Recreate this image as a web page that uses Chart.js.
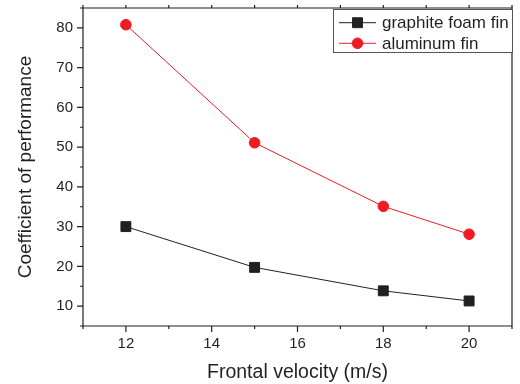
<!DOCTYPE html>
<html>
<head>
<meta charset="utf-8">
<script src="https://cdn.jsdelivr.net/npm/chart.js@4/dist/chart.umd.min.js"></script>
<style>
html,body{margin:0;padding:0;background:#fff;}
#wrap{width:520px;height:384px;position:relative;}
</style>
</head>
<body>
<div id="wrap"><canvas id="c" width="520" height="384"></canvas></div>
<script>
const velocities = [12, 15, 18, 20];
const graphiteFoamFin = [30.0, 19.75, 13.85, 11.3];
const aluminumFin = [80.8, 51.1, 35.1, 28.1];
const xTickLabels = [12, 14, 16, 18, 20];
const yTickLabels = [10, 20, 30, 40, 50, 60, 70, 80];
const seriesNames = ['graphite foam fin', 'aluminum fin'];
const xTitle = 'Frontal velocity (m/s)';
const yTitle = 'Coefficient of performance';

const INK = '#231F20';
const RED = '#ED1C24';
const FONT = '"Liberation Sans", Arial, sans-serif';

const framePlugin = {
  id: 'frame',
  afterDraw(chart) {
    const ctx = chart.ctx;
    const {left, right, top, bottom} = chart.chartArea;
    const xs = chart.scales.x, ys = chart.scales.y;
    ctx.save();
    ctx.strokeStyle = INK;
    ctx.lineWidth = 1.2;
    ctx.beginPath();
    ctx.rect(left, top, right - left, bottom - top);
    ctx.stroke();
    ctx.beginPath();
    for (let v = 5; v <= 85; v += 5) {
      const y = ys.getPixelForValue(v);
      const len = (v % 10 === 0) ? 6 : 3;
      ctx.moveTo(left - len, y); ctx.lineTo(left, y);
    }
    for (let v = 11; v <= 21; v += 1) {
      const x = xs.getPixelForValue(v);
      const len = (v % 2 === 0) ? 6 : 3;
      ctx.moveTo(x, bottom); ctx.lineTo(x, bottom + len);
      ctx.moveTo(x, top); ctx.lineTo(x, top - 3);
    }
    ctx.stroke();
    ctx.restore();

    const bx = 333, by = 9, bw = 179, bh = 43;
    ctx.save();
    ctx.fillStyle = '#fff';
    ctx.fillRect(bx, by, bw, bh);
    ctx.strokeStyle = '#555';
    ctx.lineWidth = 1;
    ctx.strokeRect(bx + 0.5, by + 0.5, bw, bh);
    const rows = [22.7, 43.3];
    chart.data.datasets.forEach((ds, i) => {
      const y = rows[i];
      ctx.strokeStyle = ds.borderColor;
      ctx.lineWidth = 1;
      ctx.beginPath();
      ctx.moveTo(339, y); ctx.lineTo(376, y);
      ctx.stroke();
      ctx.fillStyle = ds.pointBackgroundColor;
      ctx.strokeStyle = ds.pointBorderColor;
      Chart.helpers.drawPoint(ctx, {pointStyle: ds.pointStyle, rotation: 0, borderWidth: 1, radius: ds.pointRadius}, 357.5, y);
      ctx.fillStyle = INK;
      ctx.font = '17px ' + FONT;
      ctx.textBaseline = 'middle';
      ctx.textAlign = 'left';
      ctx.fillText(ds.label, 382, y + 1);
    });
    ctx.restore();
  }
};

new Chart(document.getElementById('c'), {
  type: 'line',
  data: {
    datasets: [
      {
        label: seriesNames[0],
        data: velocities.map((v, i) => ({x: v, y: graphiteFoamFin[i]})),
        borderColor: INK, backgroundColor: INK,
        pointBackgroundColor: INK, pointBorderColor: INK,
        pointStyle: 'rect', pointRadius: 7, pointBorderWidth: 1,
        borderWidth: 1, tension: 0, fill: false
      },
      {
        label: seriesNames[1],
        data: velocities.map((v, i) => ({x: v, y: aluminumFin[i]})),
        borderColor: RED, backgroundColor: RED,
        pointBackgroundColor: RED, pointBorderColor: RED,
        pointStyle: 'circle', pointRadius: 5.3, pointBorderWidth: 1,
        borderWidth: 1, tension: 0, fill: false
      }
    ]
  },
  options: {
    responsive: false,
    animation: false,
    devicePixelRatio: 1,
    layout: {padding: {top: 6, right: -3, left: 0, bottom: 0}},
    plugins: {legend: {display: false}, tooltip: {enabled: false}},
    scales: {
      x: {
        type: 'linear', min: 11, max: 21,
        afterBuildTicks(s) { s.ticks = xTickLabels.map(v => ({value: v})); },
        afterFit(s) { s.height = 58; s.paddingLeft = 0; s.paddingRight = 0; },
        grid: {display: false, drawTicks: false},
        border: {display: false},
        ticks: {font: {family: FONT, size: 15}, color: INK, padding: 9, maxRotation: 0},
        title: {display: true, text: xTitle, font: {family: FONT, size: 19.5}, color: INK, padding: {top: 0, bottom: 0}}
      },
      y: {
        type: 'linear', min: 5, max: 85,
        afterBuildTicks(s) { s.ticks = yTickLabels.map(v => ({value: v})); },
        afterFit(s) { s.width = 83; s.paddingTop = 0; s.paddingBottom = 0; },
        grid: {display: false, drawTicks: false},
        border: {display: false},
        ticks: {font: {family: FONT, size: 15}, color: INK, padding: 10},
        title: {display: true, text: yTitle, font: {family: FONT, size: 19}, color: INK, padding: {top: 14, bottom: 0}}
      }
    }
  },
  plugins: [framePlugin]
});
</script>
</body>
</html>
